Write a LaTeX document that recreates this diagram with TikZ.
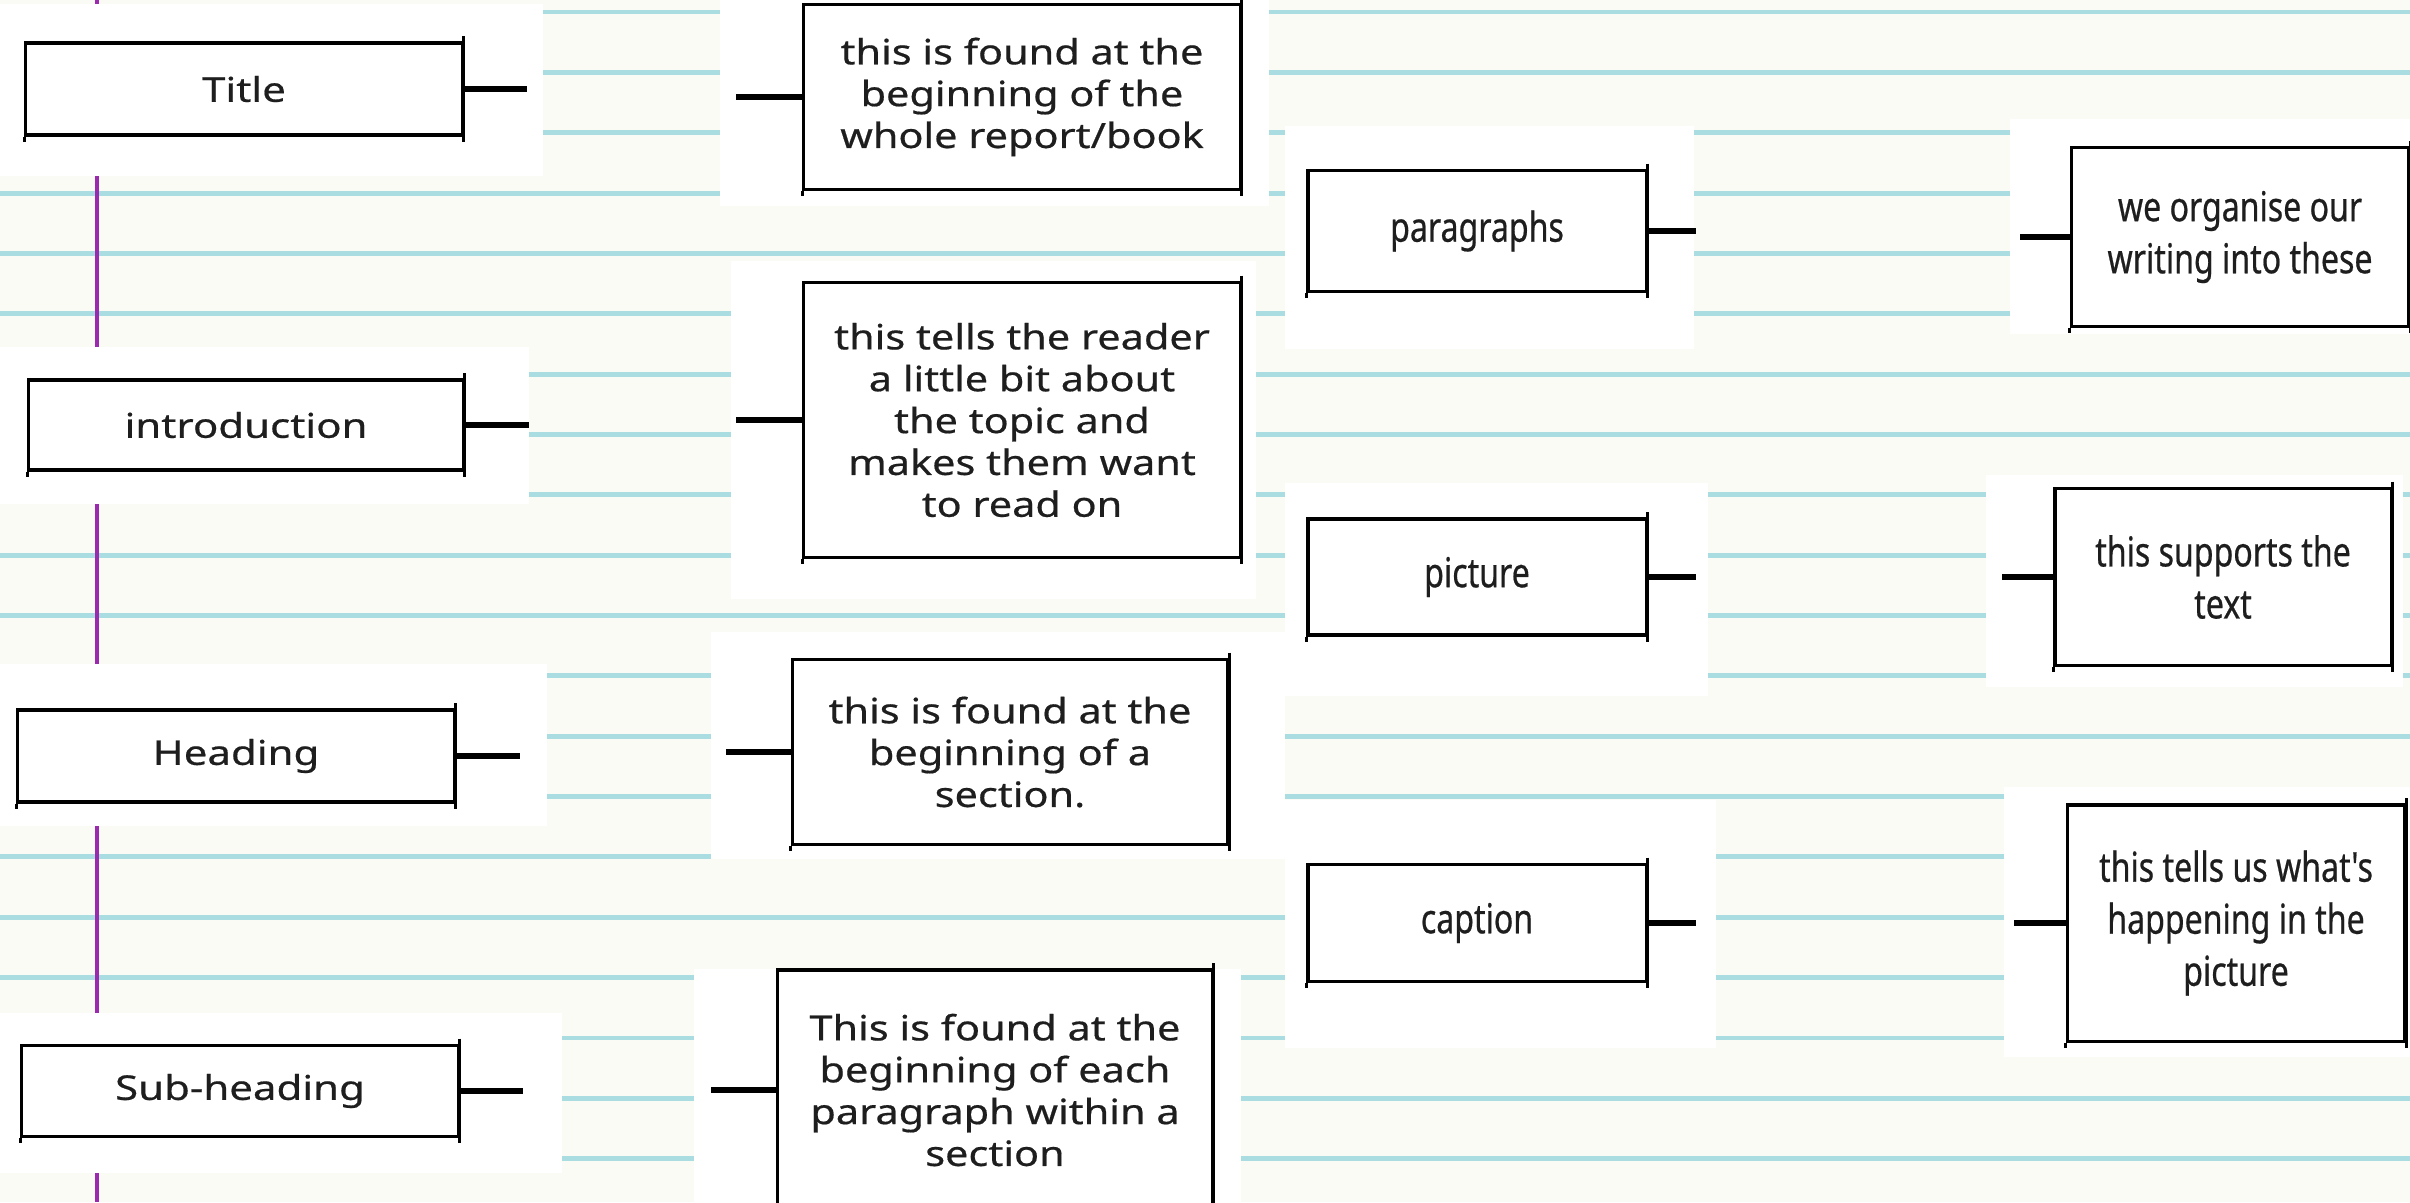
\documentclass[tikz,border=0pt]{standalone}
\usepackage{fontspec}
\usepackage{xcolor}
\usetikzlibrary{positioning}
\newfontfamily\tagfont[FakeStretch=1.23,FakeBold=0.5]{Noto Sans}
\newfontfamily\widefont[FakeStretch=1.19,FakeBold=0.5]{Noto Sans}
\newfontfamily\slimfont[FakeStretch=0.78,FakeBold=0.5]{Noto Sans}
\definecolor{paper}{HTML}{FBFBF6}
\definecolor{rulecol}{HTML}{A9DDE1}
\definecolor{margin}{HTML}{9A2AAE}
\definecolor{ink}{HTML}{1E1E1E}
\tikzset{
  ruled/.style={draw=rulecol, line width=1.4pt},
  marginline/.style={draw=margin, line width=0.9pt},
  patch/.style={fill=white},
  box/.style={draw=black, fill=white, line width=0.9pt, inner sep=0pt, text=ink, align=center},
  tag/.style={box, font=\tagfont\fontsize{9.7}{11.9}\selectfont},
  lab/.style={box, font=\widefont\fontsize{9.9}{11.9}\selectfont},
  labr/.style={box, font=\slimfont\fontsize{11.7}{14.8}\selectfont},
  stub/.style={draw=black, line width=1.6pt},
  edge/.style={draw=black, line width=0.9pt},
}

\begin{document}
\begin{tikzpicture}[x=0.01cm,y=-0.01cm]
  \useasboundingbox (0,0) rectangle (2410,1202);
  \clip (0,0) rectangle (2410,1202);
  \fill[paper] (0,0) rectangle (2410,1202);

  % ruled paper
  \foreach \k in {0,...,19}
    {\draw[ruled] (0,{12+60.35*\k}) -- (2410,{12+60.35*\k});}
  \draw[marginline] (97,0) -- (97,1202);

  % white patches behind the boxes
  \foreach \a/\b/\c/\d in {
    0/4/543/176, 720/0/1269/206, 0/347/529/504, 731/261/1256/599,
    0/664/547/826, 711/632/1285/859, 0/1013/562/1173, 694/969/1241/1202,
    1285/126/1694/349, 2010/119/2410/334, 1285/483/1708/696, 1986/475/2403/687,
    1285/800/1716/1048, 2004/787/2410/1057
  }{\fill[patch] (\a,\b) rectangle (\c,\d);}

  % left column
  \node[tag, minimum width=4.36cm, minimum height=0.92cm] (title) at (244,89) {Title};
  \node[tag, minimum width=4.34cm, minimum height=0.90cm] (intro) at (246,425) {introduction};
  \node[tag, minimum width=4.36cm, minimum height=0.92cm] (heading) at (236,756) {Heading};
  \node[tag, minimum width=4.36cm, minimum height=0.91cm] (subhead) at (240,1091) {Sub-heading};

  \node[lab, minimum width=4.36cm, minimum height=1.85cm] (titled) at (1022,97)
    {this is found at the\\beginning of the\\whole report/book};
  \node[lab, minimum width=4.36cm, minimum height=2.75cm] (introd) at (1022,420)
    {this tells the reader\\a little bit about\\the topic and\\makes them want\\to read on};
  \node[lab, minimum width=4.35cm, minimum height=1.85cm] (headingd) at (1010,752)
    {this is found at the\\beginning of a\\section.};
  \node[lab, minimum width=4.34cm, minimum height=2.40cm] (subheadd) at (995,1090)
    {This is found at the\\beginning of each\\paragraph within a\\section};

  % right column
  \node[labr, minimum width=3.38cm, minimum height=1.21cm] (para) at (1477,231) {paragraphs};
  \node[labr, minimum width=3.38cm, minimum height=1.16cm] (pict) at (1477,577) {picture};
  \node[labr, minimum width=3.38cm, minimum height=1.17cm] (capt) at (1477,923) {caption};

  \node[labr, minimum width=3.37cm, minimum height=1.79cm] (parad) at (2240,237)
    {we organise our\\writing into these};
  \node[labr, minimum width=3.36cm, minimum height=1.77cm] (pictd) at (2223,577)
    {this supports the\\text};
  \node[labr, minimum width=3.37cm, minimum height=2.36cm] (captd) at (2236,923)
    {this tells us what's\\happening in the\\picture};

  % little overshoots at the corners
  \foreach \n in {title,intro,heading,subhead,titled,introd,headingd,subheadd,para,pict,capt,parad,pictd,captd}
    {\draw[edge] ([yshift=1.5pt]\n.north east) -- ([yshift=-1.5pt]\n.south east);
     \draw[edge] (\n.south west) -- ([yshift=-1.5pt]\n.south west);}

  % stubs
  \coordinate[right=0.63cm of title.east] (title-s);
  \coordinate[right=0.64cm of intro.east] (intro-s);
  \coordinate[right=0.64cm of heading.east] (heading-s);
  \coordinate[right=0.63cm of subhead.east] (subhead-s);
  \coordinate[right=0.48cm of para.east] (para-s);
  \coordinate[right=0.48cm of pict.east] (pict-s);
  \coordinate[right=0.48cm of capt.east] (capt-s);
  \coordinate[left=0.66cm of titled.west] (titled-s);
  \coordinate[left=0.66cm of introd.west] (introd-s);
  \coordinate[left=0.65cm of headingd.west] (headingd-s);
  \coordinate[left=0.65cm of subheadd.west] (subheadd-s);
  \coordinate[left=0.50cm of parad.west] (parad-s);
  \coordinate[left=0.51cm of pictd.west] (pictd-s);
  \coordinate[left=0.52cm of captd.west] (captd-s);

  \foreach \n in {title,intro,heading,subhead,para,pict,capt}
    {\draw[stub] (\n.east) -- (\n-s);}
  \foreach \n in {titled,introd,headingd,subheadd,parad,pictd,captd}
    {\draw[stub] (\n.west) -- (\n-s);}
\end{tikzpicture}
\end{document}
